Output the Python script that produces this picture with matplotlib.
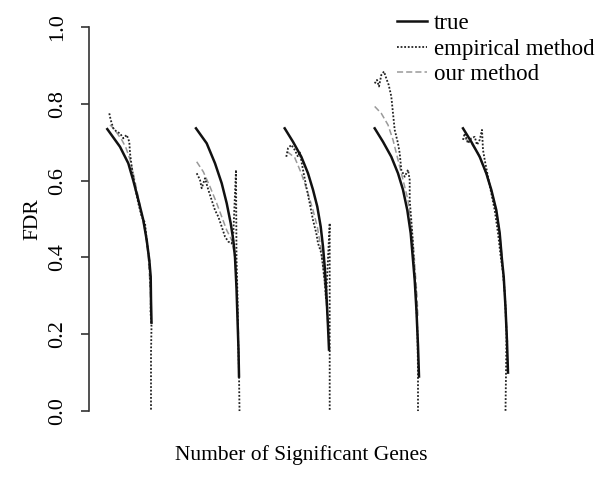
import matplotlib
matplotlib.use("Agg")
import matplotlib.pyplot as plt

plt.rcParams['font.family'] = ['Liberation Serif', 'DejaVu Serif']

# values; x in arbitrary gene-count units
true_x = [
    [18.3, 31, 39.3, 44.3, 49.3, 54.3, 57.7, 60.3, 61.7, 62, 62.5],
    [107, 117.7, 126, 132.7, 137.7, 141.7, 144.3, 146, 147.5, 148.5, 149.5, 150],
    [195.7, 204, 212.3, 219, 224, 228.3, 231.7, 234, 235.7, 237.5, 239, 240],
    [285.7, 294, 302.3, 309, 314, 318.3, 321.7, 324, 325.7, 327.5, 329, 330],
    [374, 382.3, 390.7, 397.3, 402.3, 407.3, 410.7, 413, 414.7, 416.5, 418, 419],
]
true_y = [
    [0.734, 0.688, 0.645, 0.60, 0.55, 0.497, 0.445, 0.393, 0.35, 0.29, 0.23],
    [0.736, 0.697, 0.645, 0.593, 0.541, 0.489, 0.445, 0.40, 0.32, 0.24, 0.16, 0.09],
    [0.736, 0.701, 0.662, 0.619, 0.576, 0.532, 0.48, 0.428, 0.376, 0.30, 0.22, 0.16],
    [0.736, 0.701, 0.662, 0.619, 0.576, 0.523, 0.463, 0.393, 0.341, 0.26, 0.17, 0.09],
    [0.736, 0.701, 0.662, 0.619, 0.576, 0.523, 0.463, 0.393, 0.35, 0.27, 0.18, 0.10],
]

emp_x = [
    [20.3, 21.7, 24.3, 27.7, 31, 34.3, 37.7, 40.3, 41, 42.7, 46, 49.3, 52.7, 56, 57.7,
     60.3, 61, 62, 61.5, 62.5, 62, 62],
    [107.7, 111, 112.7, 116, 119.3, 122.7, 126, 129.3, 132.7, 136, 139.3, 142.7, 144.3,
     147, 147.5, 148.5, 149, 150, 150.5],
    [197.3, 199, 202.3, 205.7, 209, 210.7, 214, 217.3, 220.7, 224, 227.3, 229, 232.3,
     234, 236, 237, 240.7, 240.7],
    [285.7, 288, 290, 292.3, 295, 297.3, 299.7, 302.3, 304, 305.7, 309, 310.7, 312.3,
     315.7, 319, 320.7, 320.7, 322.3, 324, 325, 327, 328.5, 329, 329],
    [374, 375.7, 379, 382.3, 385.7, 388, 390.7, 393, 394, 395.7, 399, 402.3, 405.7, 409,
     411.7, 414, 416, 417.5, 417, 416.5],
]
emp_y = [
    [0.775, 0.758, 0.736, 0.727, 0.723, 0.710, 0.719, 0.701, 0.672, 0.636, 0.584, 0.541,
     0.506, 0.49, 0.445, 0.393, 0.35, 0.30, 0.26, 0.22, 0.15, 0.0],
    [0.619, 0.602, 0.58, 0.606, 0.576, 0.549, 0.523, 0.506, 0.48, 0.454, 0.441, 0.436,
     0.46, 0.628, 0.40, 0.30, 0.20, 0.10, 0.0],
    [0.662, 0.684, 0.693, 0.68, 0.662, 0.675, 0.628, 0.584, 0.541, 0.497, 0.463, 0.437,
     0.411, 0.376, 0.33, 0.29, 0.489, 0.0],
    [0.853, 0.862, 0.845, 0.875, 0.884, 0.866, 0.849, 0.819, 0.775, 0.732, 0.697, 0.671,
     0.628, 0.61, 0.628, 0.602, 0.549, 0.497, 0.437, 0.376, 0.30, 0.20, 0.10, 0.0],
    [0.706, 0.723, 0.697, 0.71, 0.714, 0.693, 0.706, 0.732, 0.68, 0.654, 0.61, 0.567,
     0.523, 0.463, 0.402, 0.359, 0.30, 0.20, 0.10, 0.0],
]

our_x = [
    [21, 25, 29, 33, 37, 41, 45, 49, 53, 56, 59, 61, 62],
    [107.7, 114.3, 121, 127.7, 132.7, 137.7, 142.7, 146, 148, 149.5],
    [198.3, 205.7, 212.3, 219, 224, 228.3, 231.7, 234, 236, 238, 239.5],
    [285.7, 292.3, 299, 304, 309, 314, 319, 322.3, 325, 326.3, 328, 329],
    [375.7, 382.3, 389, 395.7, 402.3, 407.3, 410.7, 413, 415, 417, 418.5],
]
our_y = [
    [0.745, 0.735, 0.72, 0.705, 0.685, 0.655, 0.61, 0.56, 0.51, 0.47, 0.41, 0.33, 0.25],
    [0.649, 0.623, 0.584, 0.541, 0.506, 0.471, 0.445, 0.40, 0.30, 0.20],
    [0.675, 0.66, 0.619, 0.567, 0.523, 0.48, 0.428, 0.376, 0.32, 0.26, 0.20],
    [0.793, 0.775, 0.745, 0.706, 0.654, 0.602, 0.549, 0.48, 0.411, 0.359, 0.30, 0.24],
    [0.71, 0.697, 0.671, 0.628, 0.576, 0.523, 0.463, 0.40, 0.33, 0.25, 0.18],
]

yticks = [0.0, 0.2, 0.4, 0.6, 0.8, 1.0]

#####################################################################################################################

fig = plt.figure(figsize=(5.99, 4.91), dpi=100)
ax = fig.add_axes([89 / 599, 0.1316, 500 / 599, 0.8448])

for i in range(5):
    ax.plot(our_x[i], our_y[i], color='#9a9a9a', lw=1.1, ls=(0, (4, 2)),
            label='our method' if i == 0 else None)
    ax.plot(emp_x[i], emp_y[i], color='#222222', lw=1.3, ls=(0, (1, 1)),
            label='empirical method' if i == 0 else None)
    ax.plot(true_x[i], true_y[i], color='#111111', lw=1.8, ls='-',
            label='true' if i == 0 else None)

ax.set_xlim(0, 500)
ax.set_ylim(-0.04, 1.04)

for s in ('top', 'right', 'bottom'):
    ax.spines[s].set_visible(False)
ax.spines['left'].set_bounds(0, 1)
ax.spines['left'].set_linewidth(1.2)
ax.spines['left'].set_color('#333333')
ax.set_xticks([])
ax.set_yticks(yticks)
ax.set_yticklabels(['%.1f' % v for v in yticks], rotation=90, va='center', fontsize=16)
ax.tick_params(axis='y', length=6, width=1.2, color='#333333', pad=10)

ax.set_ylabel('FDR', fontsize=15.5, labelpad=4)
ax.set_xlabel('Number of Significant Genes', fontsize=15.5)
ax.xaxis.set_label_coords(0.424, -0.045)

handles, labels = ax.get_legend_handles_labels()
order = [labels.index(k) for k in ('true', 'empirical method', 'our method')]
ax.legend([handles[k] for k in order], [labels[k] for k in order],
          loc='upper left', bbox_to_anchor=(0.598, 1.019), frameon=False,
          fontsize=16.5, handlelength=1.3, handletextpad=0.3, labelspacing=0.2,
          borderaxespad=0)

fig.savefig('out.png', dpi=100)
